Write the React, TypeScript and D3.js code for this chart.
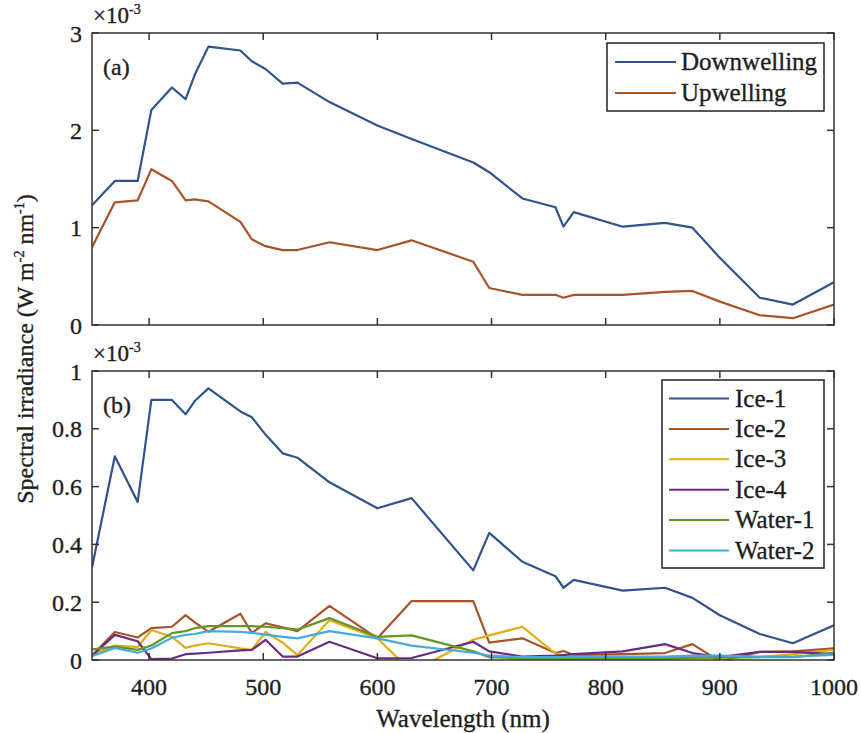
import React from "react";
import * as d3 from "d3";

// Wavelength grid shared by every series (nm)
const WAVELENGTHS = [350, 370, 390, 402, 420, 432, 440, 452, 480, 490, 502, 517, 530, 558, 600, 630, 684, 698, 727, 756, 763, 772, 815, 852, 876, 900, 935, 964, 1000];

// Panel (a), units of 1e-3 W m^-2 nm^-1
const DOWNWELLING = [1.23, 1.48, 1.48, 2.21, 2.44, 2.32, 2.57, 2.86, 2.82, 2.71, 2.63, 2.48, 2.49, 2.29, 2.05, 1.91, 1.67, 1.57, 1.30, 1.21, 1.01, 1.16, 1.01, 1.05, 1.00, 0.69, 0.28, 0.21, 0.44];
const UPWELLING = [0.80, 1.26, 1.28, 1.60, 1.48, 1.28, 1.29, 1.27, 1.06, 0.88, 0.81, 0.77, 0.77, 0.85, 0.77, 0.87, 0.65, 0.38, 0.31, 0.31, 0.28, 0.31, 0.31, 0.34, 0.35, 0.24, 0.10, 0.07, 0.21];

// Panel (b), units of 1e-3 W m^-2 nm^-1
const ICE_1 = [0.32, 0.705, 0.547, 0.90, 0.90, 0.85, 0.896, 0.94, 0.86, 0.84, 0.78, 0.715, 0.70, 0.615, 0.525, 0.56, 0.31, 0.44, 0.34, 0.29, 0.25, 0.277, 0.24, 0.25, 0.215, 0.155, 0.09, 0.058, 0.12];
const ICE_2 = [0.015, 0.097, 0.078, 0.11, 0.115, 0.155, 0.13, 0.098, 0.16, 0.094, 0.127, 0.113, 0.10, 0.187, 0.075, 0.204, 0.204, 0.06, 0.075, 0.024, 0.031, 0.017, 0.02, 0.024, 0.055, -0.005, 0.028, 0.03, 0.04];
const ICE_3 = [0.02, 0.05, 0.045, 0.104, 0.08, 0.042, 0.05, 0.058, 0.04, 0.035, 0.097, 0.06, 0.017, 0.138, 0.075, -0.04, 0.07, 0.085, 0.115, 0.022, 0.015, 0.01, 0.008, 0.01, 0.008, 0.01, 0.01, 0.02, 0.035];
const ICE_4 = [0.015, 0.087, 0.065, 0.003, 0.005, 0.02, 0.022, 0.025, 0.033, 0.035, 0.07, 0.012, 0.012, 0.063, 0.006, 0.007, 0.063, 0.03, 0.012, 0.015, 0.017, 0.02, 0.03, 0.055, 0.024, 0.01, 0.028, 0.028, 0.02];
const WATER_1 = [0.037, 0.046, 0.035, 0.05, 0.093, 0.10, 0.11, 0.117, 0.117, 0.117, 0.115, 0.11, 0.105, 0.145, 0.08, 0.085, 0.03, 0.01, 0.005, 0.005, 0.005, 0.005, 0.005, 0.005, 0.008, 0.008, 0.01, 0.01, 0.025];
const WATER_2 = [0.013, 0.042, 0.025, 0.04, 0.077, 0.087, 0.09, 0.10, 0.097, 0.094, 0.088, 0.08, 0.075, 0.10, 0.075, 0.05, 0.025, 0.015, 0.01, 0.01, 0.01, 0.012, 0.012, 0.012, 0.015, 0.015, 0.012, 0.012, 0.018];

const X_TICKS = [400, 500, 600, 700, 800, 900, 1000];
const Y_TICKS_A = [0, 1, 2, 3];
const Y_TICKS_B = [0, 0.2, 0.4, 0.6, 0.8, 1];

const BLUE = "#30528f";
const BROWN = "#a85328";
const YELLOW = "#e0ad16";
const PURPLE = "#6a2c7c";
const GREEN = "#679424";
const CYAN = "#42addc";

const SERIES_A = [
  { name: "Downwelling", values: DOWNWELLING, color: BLUE },
  { name: "Upwelling", values: UPWELLING, color: BROWN },
];
const SERIES_B = [
  { name: "Ice-1", values: ICE_1, color: BLUE },
  { name: "Ice-2", values: ICE_2, color: BROWN },
  { name: "Ice-3", values: ICE_3, color: YELLOW },
  { name: "Ice-4", values: ICE_4, color: PURPLE },
  { name: "Water-1", values: WATER_1, color: GREEN },
  { name: "Water-2", values: WATER_2, color: CYAN },
];

const W = 861;
const H = 733;
const FONT = "'Liberation Serif', 'Times New Roman', serif";
const INK = "#1e1e1e";
const LEFT = 92;
const RIGHT = 834;

// slightly heavier glyphs for the serif labels
const TXT = { fontFamily: FONT, fill: INK, stroke: INK, strokeWidth: 0.35 };

const x = d3.scaleLinear().domain([350, 1000]).range([LEFT, RIGHT]);

type Panel = {
  id: string;
  top: number;
  bottom: number;
  max: number;
  ticks: number[];
  series: { name: string; values: number[]; color: string }[];
  tag: string;
  showXLabels: boolean;
  legend: { x0: number; y0: number; x1: number; y1: number; rowY0: number; rowStep: number; lineX0: number; lineX1: number; textX: number };
  fmt: (v: number) => string;
};

const PANELS: Panel[] = [
  {
    id: "a",
    top: 33,
    bottom: 325,
    max: 3,
    ticks: Y_TICKS_A,
    series: SERIES_A,
    tag: "(a)",
    showXLabels: false,
    legend: { x0: 607, y0: 43, x1: 824, y1: 111, rowY0: 62, rowStep: 31, lineX0: 615, lineX1: 676, textX: 681 },
    fmt: (v) => String(v),
  },
  {
    id: "b",
    top: 371,
    bottom: 660,
    max: 1,
    ticks: Y_TICKS_B,
    series: SERIES_B,
    tag: "(b)",
    showXLabels: true,
    legend: { x0: 662, y0: 380, x1: 824, y1: 568, rowY0: 398.5, rowStep: 30.4, lineX0: 669, lineX1: 729, textX: 735 },
    fmt: (v) => (v === 0 || v === 1 ? String(v) : d3.format(".1f")(v)),
  },
];

const TICK = 7;

function PanelView({ p }: { p: Panel }) {
  const y = d3.scaleLinear().domain([0, p.max]).range([p.bottom, p.top]);
  const line = d3
    .line<number>()
    .x((_, i) => x(WAVELENGTHS[i]))
    .y((v) => y(v));
  const clipId = `clip-${p.id}`;
  const L = p.legend;
  return (
    <g>
      <defs>
        <clipPath id={clipId}>
          <rect x={LEFT} y={p.top} width={RIGHT - LEFT} height={p.bottom - p.top} />
        </clipPath>
      </defs>
      <g clipPath={`url(#${clipId})`}>
        {p.series.map((s) => (
          <path key={s.name} d={line(s.values) || ""} fill="none" stroke={s.color} strokeWidth={2.2} strokeLinejoin="round" />
        ))}
      </g>
      {/* frame */}
      <rect x={LEFT} y={p.top} width={RIGHT - LEFT} height={p.bottom - p.top} fill="none" stroke="#333" strokeWidth={1.5} />
      {/* x ticks on bottom and top */}
      {X_TICKS.map((t) => (
        <g key={`xt${t}`}>
          <line x1={x(t)} x2={x(t)} y1={p.bottom} y2={p.bottom - TICK} stroke="#333" strokeWidth={1.5} />
          <line x1={x(t)} x2={x(t)} y1={p.top} y2={p.top + TICK} stroke="#333" strokeWidth={1.5} />
          {p.showXLabels && (
            <text x={x(t)} y={695} textAnchor="middle" fontSize={24} {...TXT}>
              {t}
            </text>
          )}
        </g>
      ))}
      {/* y ticks on left and right */}
      {p.ticks.map((t) => (
        <g key={`yt${t}`}>
          <line x1={LEFT} x2={LEFT + TICK} y1={y(t)} y2={y(t)} stroke="#333" strokeWidth={1.5} />
          <line x1={RIGHT} x2={RIGHT - TICK} y1={y(t)} y2={y(t)} stroke="#333" strokeWidth={1.5} />
          <text x={82} y={y(t) + 8.5} textAnchor="end" fontSize={24} {...TXT}>
            {p.fmt(t)}
          </text>
        </g>
      ))}
      {/* exponent label */}
      <text x={LEFT + 1} y={p.top - 10} fontSize={23} {...TXT}>
        ×10
        <tspan fontSize={14} dy={-9}>-3</tspan>
      </text>
      {/* panel tag */}
      <text x={103} y={p.top + 42} fontSize={24} {...TXT}>
        {p.tag}
      </text>
      {/* legend */}
      <rect x={L.x0} y={L.y0} width={L.x1 - L.x0} height={L.y1 - L.y0} fill="#fff" stroke="#222" strokeWidth={1.5} />
      {p.series.map((s, i) => {
        const ry = L.rowY0 + i * L.rowStep;
        return (
          <g key={`lg${s.name}`}>
            <line x1={L.lineX0} x2={L.lineX1} y1={ry} y2={ry} stroke={s.color} strokeWidth={2} />
            <text x={L.textX} y={ry + 8} fontSize={25} {...TXT}>
              {s.name}
            </text>
          </g>
        );
      })}
    </g>
  );
}

export default function App() {
  return (
    <svg
      width={W}
      height={H}
      viewBox={`0 0 ${W} ${H}`}
      style={{ position: "absolute", left: 0, top: 0, background: "#fff" }}
    >
      <rect x={0} y={0} width={W} height={H} fill="#fff" />
      {PANELS.map((p) => (
        <PanelView key={p.id} p={p} />
      ))}
      <text x={(LEFT + RIGHT) / 2} y={727} textAnchor="middle" fontSize={25} {...TXT}>
        Wavelength (nm)
      </text>
      <text transform="translate(33,349) rotate(-90)" textAnchor="middle" fontSize={24} {...TXT}>
        Spectral irradiance (W m
        <tspan fontSize={14} dy={-9}>-2</tspan>
        <tspan dy={9}> nm</tspan>
        <tspan fontSize={14} dy={-9}>-1</tspan>
        <tspan dy={9}>)</tspan>
      </text>
    </svg>
  );
}
